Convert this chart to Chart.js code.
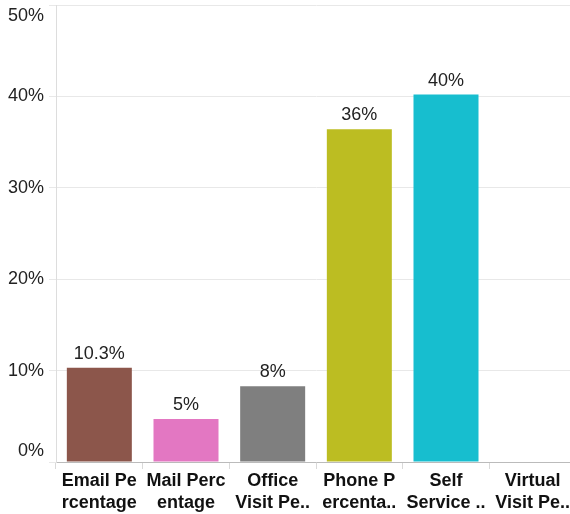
<!DOCTYPE html>
<html>
<head>
<meta charset="utf-8">
<script src="https://cdn.jsdelivr.net/npm/chart.js@4/dist/chart.umd.min.js"></script>
<style>
  html, body { margin: 0; background: #fff; overflow: hidden; }
</style>
</head>
<body>
<!-- slightly wider than the window: the plot runs past the right edge -->
<canvas id="channelChart" width="576" height="514"></canvas>
<script>
const categories = [
  ['Email Pe', 'rcentage'],
  ['Mail Perc', 'entage'],
  ['Office', 'Visit Pe..'],
  ['Phone P', 'ercenta..'],
  ['Self', 'Service ..'],
  ['Virtual', 'Visit Pe..']
];
const percentages = [10.3, 4.7, 8.3, 36.4, 40.2, 0];
const valueLabels = ['10.3%', '5%', '8%', '36%', '40%', ''];
const barColors = ['#8c564b', '#e377c2', '#7f7f7f', '#bcbd22', '#17becf', '#1f77b4'];
const yTicks = [0, 10, 20, 30, 40, 50];

const FONT = '"Liberation Sans", Arial, Helvetica, sans-serif';

// draws the value text above each bar
const barLabels = {
  id: 'barLabels',
  afterDatasetsDraw(chart) {
    const ctx = chart.ctx;
    const meta = chart.getDatasetMeta(0);
    ctx.save();
    ctx.font = '18px ' + FONT;
    ctx.fillStyle = '#222';
    ctx.textAlign = 'center';
    ctx.textBaseline = 'alphabetic';
    meta.data.forEach((bar, i) => {
      if (!valueLabels[i]) return;
      ctx.fillText(valueLabels[i], bar.x, bar.y - 9);
    });
    ctx.restore();
  }
};

const context = document.getElementById('channelChart').getContext('2d');

new Chart(context, {
  type: 'bar',
  data: {
    labels: categories,
    datasets: [{
      data: percentages,
      backgroundColor: barColors,
      borderWidth: 0,
      categoryPercentage: 1,
      barPercentage: 0.75
    }]
  },
  options: {
    responsive: false,
    animation: false,
    layout: { padding: 0 },
    scales: {
      x: {
        grid: {
          offset: true,
          drawOnChartArea: false,
          color: '#d9d9d9',
          tickLength: 7
        },
        border: { color: '#bbb', dash: [2, 2] },
        ticks: {
          color: '#111',
          padding: 2,
          autoSkip: false,
          maxRotation: 0,
          font: { family: FONT, size: 18, weight: 'bold', lineHeight: 1.17 }
        },
        afterFit: (scale) => {
          scale.height = 52;
          scale.paddingLeft = 0;
          scale.paddingRight = 0;
        }
      },
      y: {
        min: 0,
        max: 50,
        afterBuildTicks: (scale) => {
          scale.ticks = yTicks.map((v) => ({ value: v }));
        },
        grid: { color: '#e8e8e8', tickLength: 7 },
        border: { color: '#ddd' },
        ticks: {
          color: '#222',
          padding: 5,
          font: { family: FONT, size: 18 },
          callback: function (value) {
            // nudge the end labels inside the canvas
            if (value === 50) return ['', '50%'];
            if (value === 0) return ['0%', ''];
            return value + '%';
          }
        },
        afterFit: (scale) => {
          scale.width = 56;
          scale.paddingTop = 5;
          scale.paddingBottom = 0;
        }
      }
    },
    plugins: {
      legend: { display: false },
      title: { display: false },
      tooltip: { enabled: false }
    }
  },
  plugins: [barLabels]
});
</script>
</body>
</html>
